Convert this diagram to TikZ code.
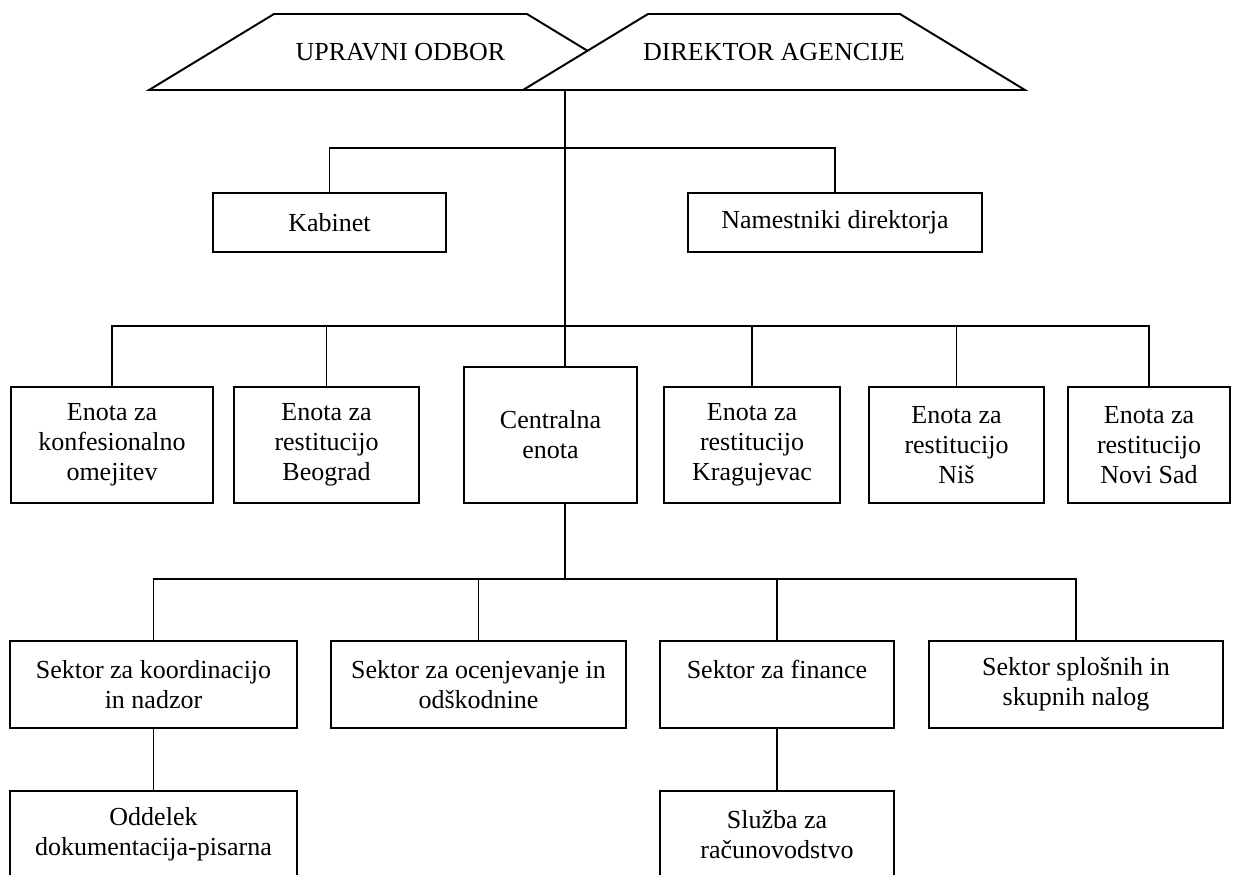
\documentclass[tikz,border=0pt]{standalone}
\usepackage{fontspec}
\setmainfont{Liberation Serif}
\newcommand{\px}{0.4615pt}

\begin{document}
\begin{tikzpicture}
    [
        x=\px, y=-\px,
        line width=0.9pt,
        every node/.style={font=\fontsize{12}{13.8}\selectfont},
        box/.style 2 args={rectangle,draw=black,line width=0.9pt,align=center,inner sep=0pt,
            minimum width=#1*\px,minimum height=#2*\px},
    ]

\useasboundingbox (0,0) rectangle (1235,874);
\fill[white] (0,0) rectangle (1235,874);

% top
\draw[fill=white] (149,90) -- (274,14) -- (527,14) -- (652,90) -- cycle;
\node (uo) at (400.5,52) {UPRAVNI ODBOR};
\draw[fill=white] (523,90) -- (648,14) -- (900,14) -- (1025,90) -- cycle;
\node (da) at (774,52) {DIREKTOR AGENCIJE};
\coordinate (spine) at (565,90);
\coordinate (bar1) at (0,148);
\coordinate (bar2) at (0,326);
\coordinate (bar3) at (0,579);

\node[box={233}{59}] (kab) at (329.5,222.5) {Kabinet};
\node[box={294}{59}] (nam) at (835,222.5) {Namestniki direktorja};

% enote
\foreach \n/\x/\w/\t in {k1/112/202/{Enota za\\konfesionalno\\omejitev},
    k2/326.5/185/{Enota za\\restitucijo\\Beograd},
    k4/752/176/{Enota za\\restitucijo\\Kragujevac},
    k5/956.5/175/{Enota za\\restitucijo\\Niš},
    k6/1149/162/{Enota za\\restitucijo\\Novi Sad}}
    \node[box={\w}{116}] (\n) at (\x,445) {\t};
\node[box={173}{136}] (cen) at (550.5,435) {Centralna\\enota};

% sektorji
\node[box={287}{87}] (s1) at (153.5,684.5) {Sektor za koordinacijo\\in nadzor};
\node[box={295}{87}] (s2) at (478.5,684.5) {Sektor za ocenjevanje in\\odškodnine};
\node[box={234}{87}] (s3) at (777,684.5) {Sektor za finance\\\mbox{}};
\node[box={294}{87}] (s4) at (1076,684.5) {Sektor splošnih in\\skupnih nalog};

\node[box={287}{87}] (o1) at (153.5,834.5) {Oddelek\\dokumentacija-pisarna};
\node[box={234}{87}] (o2) at (777,834.5) {Služba za\\računovodstvo};

% povezave
\draw (spine) -- (spine |- cen.north);
\draw (spine |- cen.south) -- (spine |- bar3);
\draw (kab.north) -- (kab.north |- bar1) -- (nam.north |- bar1) -- (nam.north);
\draw (k1.north) -- (k1.north |- bar2) -- (k6.north |- bar2) -- (k6.north);
\foreach \n in {k2,k4,k5}
    \draw (\n.north) -- (\n.north |- bar2);
\draw (s1.north) -- (s1.north |- bar3) -- (s4.north |- bar3) -- (s4.north);
\foreach \n in {s2,s3}
    \draw (\n.north) -- (\n.north |- bar3);
\draw (s1.south) -- (o1.north);
\draw (s3.south) -- (o2.north);
\end{tikzpicture}
\end{document}
